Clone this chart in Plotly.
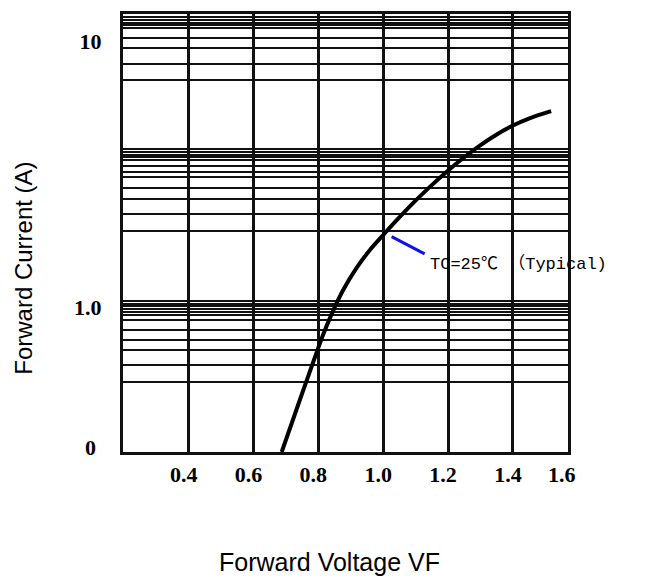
import plotly.graph_objects as go

# Forward characteristic (TC = 25 C, typical)
vf = [0.687, 0.723, 0.756, 0.787, 0.814, 0.842, 0.877, 0.918, 0.959, 1.005,
      1.041, 1.092, 1.144, 1.195, 1.246, 1.298, 1.349, 1.400, 1.451, 1.518]
i_f = [0.286, 0.382, 0.498, 0.636, 0.784, 0.948, 1.162, 1.405, 1.640, 1.895,
       2.117, 2.459, 2.830, 3.220, 3.625, 4.044, 4.443, 4.806, 5.117, 5.443]

# leader line of the note
note_x = [1.026, 1.128]
note_y = [1.84, 1.586]
note_text = "TC=25℃ （Typical)"

# axes
x_tick_vals = [0.4, 0.6, 0.8, 1.0, 1.2, 1.4]
x_tick_text = ["0.4", "0.6", "0.8", "1.0", "1.2", "1.4"]
x_last_label = "1.6"
y_tick_vals = [0.298, 1.0, 10.0]
y_tick_text = ["0\u00a0", "1.0", "10"]
# horizontal grid lines of the (hand drawn) log paper
y_grid = [12.26, 11.98, 11.70, 11.44, 11.18, 10.26, 9.36, 8.21, 7.11,
          3.91, 3.82, 3.73, 3.65, 3.57, 3.39, 3.22, 3.07, 2.80, 2.55, 2.23, 1.93,
          1.059, 1.029, 1.006, 0.983, 0.960, 0.934, 0.892, 0.819, 0.751, 0.689,
          0.608, 0.522]

x_title = "Forward Voltage VF"
y_title = "Forward Current (A)"

fig = go.Figure()
fig.add_trace(go.Scatter(x=vf, y=i_f, mode="lines",
                         line=dict(color="black", width=4, shape="spline", smoothing=0.8),
                         showlegend=False, hoverinfo="skip"))
fig.add_trace(go.Scatter(x=note_x, y=note_y, mode="lines",
                         line=dict(color="#1010ee", width=3),
                         showlegend=False, hoverinfo="skip"))

tick_font = dict(family="Liberation Serif", size=22, color="black", weight="bold")

# the page body has an 8px margin: the figure is sized/offset to compensate
fig.update_layout(
    width=653, height=572,
    margin=dict(l=114.5, r=92.5, t=3, b=128.3),
    paper_bgcolor="white", plot_bgcolor="white",
    xaxis=dict(range=[0.1975, 1.570], tickmode="array",
               tickvals=x_tick_vals, ticktext=x_tick_text,
               showgrid=True, gridcolor="#111", gridwidth=2.5,
               showline=True, linecolor="#111", linewidth=3, mirror=True,
               ticks="", zeroline=False, tickfont=tick_font,
               ticklabelshift=-5, ticklabelstandoff=1),
    yaxis=dict(type="log", range=[-0.5437, 1.1007], tickmode="array",
               tickvals=y_tick_vals, ticktext=y_tick_text,
               showgrid=False,
               minor=dict(tickmode="array", tickvals=y_grid, showgrid=True,
                          gridcolor="#111", gridwidth=2, ticks=""),
               showline=True, linecolor="#111", linewidth=3, mirror=True,
               ticks="", zeroline=False, tickfont=tick_font,
               ticklabelstandoff=14),
)

fig.add_annotation(x=1.1375, y=0.1604, xref="x", yref="y", text=note_text,
                   showarrow=False, xanchor="left", yanchor="middle",
                   font=dict(family="Liberation Mono, Noto Sans CJK SC", size=17, color="black"))
fig.add_annotation(x=1.553, y=-0.0506, xref="x", yref="paper", text=x_last_label,
                   showarrow=False, xanchor="center", yanchor="middle",
                   font=tick_font)
fig.add_annotation(x=0.465, y=-0.2503, xref="paper", yref="paper", text=x_title,
                   showarrow=False, xanchor="center", yanchor="middle",
                   font=dict(family="Liberation Sans", size=25, color="black"))
fig.add_annotation(x=-0.2253, y=0.42, xref="paper", yref="paper", text=y_title,
                   showarrow=False, xanchor="center", yanchor="middle", textangle=-90,
                   font=dict(family="Liberation Sans", size=24, color="black"))

fig.write_html("out.html")
